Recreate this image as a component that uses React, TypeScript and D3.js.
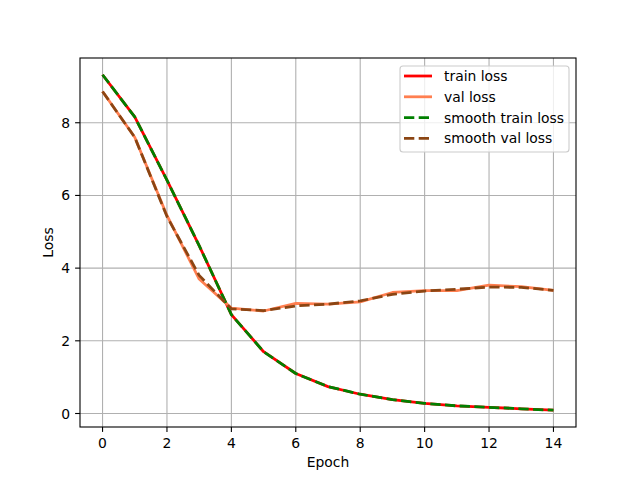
import React from "react";
import * as d3 from "d3";

const epochs = [0, 1, 2, 3, 4, 5, 6, 7, 8, 9, 10, 11, 12, 13, 14];
const trainLoss = [9.32, 8.16, 6.42, 4.62, 2.72, 1.70, 1.10, 0.74, 0.53, 0.38, 0.28, 0.21, 0.17, 0.13, 0.09];
const valLoss = [8.86, 7.60, 5.45, 3.70, 2.90, 2.82, 3.03, 3.01, 3.07, 3.33, 3.38, 3.38, 3.53, 3.49, 3.39];
const smoothTrainLoss = [9.32, 8.16, 6.42, 4.62, 2.72, 1.70, 1.10, 0.74, 0.53, 0.38, 0.28, 0.21, 0.17, 0.13, 0.09];
const smoothValLoss = [8.86, 7.60, 5.42, 3.80, 2.88, 2.83, 2.96, 3.01, 3.10, 3.28, 3.37, 3.42, 3.48, 3.47, 3.39];
const xTicks = [0, 2, 4, 6, 8, 10, 12, 14];
const yTicks = [0, 2, 4, 6, 8];

const seriesNames = ["train loss", "val loss", "smooth train loss", "smooth val loss"];
const seriesColors = ["#ff0000", "#ff7f50", "#008000", "#8b4513"];
const seriesDashed = [false, false, true, true];
const seriesData = [trainLoss, valLoss, smoothTrainLoss, smoothValLoss];

export default function App() {
  const W = 640, H = 480;
  const left = 80, right = 576, top = 58, bottom = 427;
  const allVals = seriesData.flat();
  const ymin = d3.min(allVals)!, ymax = d3.max(allVals)!;
  const ym = (ymax - ymin) * 0.05;
  const x = d3.scaleLinear().domain([-0.7, 14.7]).range([left, right]);
  const y = d3.scaleLinear().domain([ymin - ym, ymax + ym]).range([bottom, top]);
  const font = "DejaVu Sans, sans-serif";
  const fs = 13.9;
  const lw = 2.78;
  const dash = "10.3,4.4";

  const line = (vals: number[]) =>
    d3.line<number>().x((_, i) => x(epochs[i])).y((v) => y(v))(vals) || "";

  const legX = 400, legY = 66, legW = 169, legH = 86;
  const rowH = 20.8;

  return (
    <svg width={W} height={H} style={{ position: "absolute", left: 0, top: 0, background: "#fff" }}>
      <rect x={0} y={0} width={W} height={H} fill="#fff" />
      <g>
        {xTicks.map((t) => (
          <line key={"gx" + t} x1={x(t)} x2={x(t)} y1={top} y2={bottom} stroke="#b0b0b0" strokeWidth={1.1} />
        ))}
        {yTicks.map((t) => (
          <line key={"gy" + t} x1={left} x2={right} y1={y(t)} y2={y(t)} stroke="#b0b0b0" strokeWidth={1.1} />
        ))}
      </g>
      <defs>
        <clipPath id="clip">
          <rect x={left} y={top} width={right - left} height={bottom - top} />
        </clipPath>
      </defs>
      <g clipPath="url(#clip)">
        {seriesData.map((vals, i) => (
          <path
            key={i}
            d={line(vals)}
            fill="none"
            stroke={seriesColors[i]}
            strokeWidth={lw}
            strokeDasharray={seriesDashed[i] ? dash : undefined}
            strokeLinejoin="round"
          />
        ))}
      </g>
      <rect x={left} y={top} width={right - left} height={bottom - top} fill="none" stroke="#000" strokeWidth={1.1} />
      {xTicks.map((t) => (
        <g key={"tx" + t}>
          <line x1={x(t)} x2={x(t)} y1={bottom} y2={bottom + 4.9} stroke="#000" strokeWidth={1.1} />
          <text x={x(t)} y={bottom + 20.5} textAnchor="middle" fontFamily={font} fontSize={fs} fill="#000">
            {t}
          </text>
        </g>
      ))}
      {yTicks.map((t) => (
        <g key={"ty" + t}>
          <line x1={left - 4.9} x2={left} y1={y(t)} y2={y(t)} stroke="#000" strokeWidth={1.1} />
          <text x={left - 9.8} y={y(t)} dy="0.36em" textAnchor="end" fontFamily={font} fontSize={fs} fill="#000">
            {t}
          </text>
        </g>
      ))}
      <text x={(left + right) / 2} y={467} textAnchor="middle" fontFamily={font} fontSize={fs} fill="#000">
        Epoch
      </text>
      <text
        transform={`translate(53,${(top + bottom) / 2}) rotate(-90)`}
        textAnchor="middle"
        fontFamily={font}
        fontSize={fs}
        fill="#000"
      >
        Loss
      </text>
      <g>
        <rect x={legX} y={legY} width={legW} height={legH} rx={3} ry={3} fill="#fff" fillOpacity={0.8} stroke="#cccccc" strokeWidth={1.1} />
        {seriesNames.map((n, i) => {
          const cy = legY + 10 + i * rowH;
          return (
            <g key={n}>
              <line
                x1={legX + 4}
                x2={legX + 32}
                y1={cy}
                y2={cy}
                stroke={seriesColors[i]}
                strokeWidth={lw}
                strokeDasharray={seriesDashed[i] ? dash : undefined}
              />
              <text x={legX + 44} y={cy} dy="0.36em" fontFamily={font} fontSize={fs} fill="#000">
                {n}
              </text>
            </g>
          );
        })}
      </g>
    </svg>
  );
}
